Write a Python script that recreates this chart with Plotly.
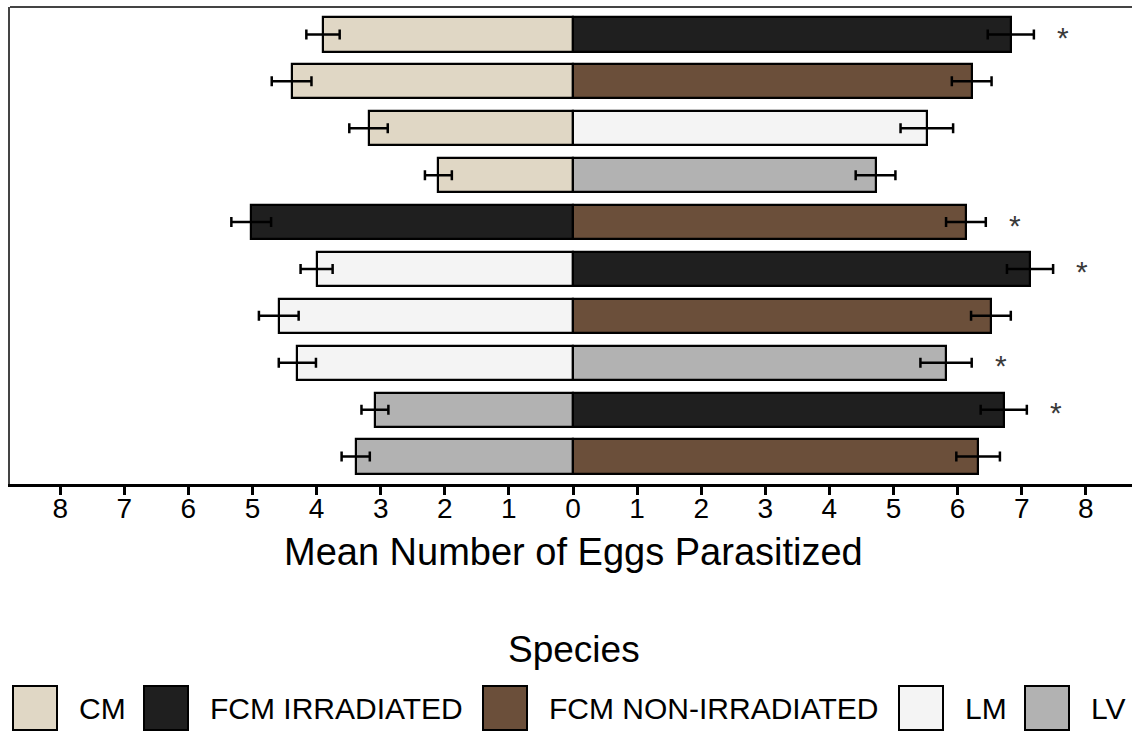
import plotly.graph_objects as go

# ---------------- data ----------------
species = ["CM", "FCM IRRADIATED", "FCM NON-IRRADIATED", "LM", "LV"]
species_colors = ["#e0d7c5", "#1f1f1f", "#6b4f3a", "#f4f4f4", "#b2b2b2"]

left_species = ["CM", "CM", "CM", "CM", "FCM IRRADIATED",
                "LM", "LM", "LM", "LV", "LV"]
left_mean = [3.90, 4.39, 3.19, 2.10, 5.02, 4.00, 4.59, 4.30, 3.09, 3.39]
left_se = [0.26, 0.31, 0.30, 0.21, 0.31, 0.25, 0.31, 0.29, 0.21, 0.22]

right_species = ["FCM IRRADIATED", "FCM NON-IRRADIATED", "LM", "LV",
                 "FCM NON-IRRADIATED", "FCM IRRADIATED", "FCM NON-IRRADIATED",
                 "LV", "FCM IRRADIATED", "FCM NON-IRRADIATED"]
right_mean = [6.83, 6.22, 5.52, 4.72, 6.13, 7.13, 6.52, 5.82, 6.72, 6.32]
right_se = [0.36, 0.31, 0.41, 0.31, 0.31, 0.36, 0.31, 0.40, 0.36, 0.34]

significant = [True, False, False, False, True, True, False, True, True, False]

tick_values = list(range(-8, 9))
tick_labels = [str(abs(v)) for v in tick_values]

# ---------------- figure ----------------
FONT = "Liberation Sans, Arial, Helvetica, sans-serif"
cmap = dict(zip(species, species_colors))
rows = list(range(len(left_mean)))

W, H = 1132, 731
ML, MR, MT, MB = 10, 0, 7, 247
PW, PH = W - ML - MR, H - MT - MB


def px_x(px):
    return (px - ML) / PW


def px_y(py):
    return (H - MB - py) / PH


fig = go.Figure()

fig.add_trace(go.Bar(
    y=rows, x=[-v for v in left_mean], orientation="h", width=0.73,
    marker=dict(color=[cmap[s] for s in left_species],
                line=dict(color="black", width=2.2)),
    error_x=dict(type="data", array=left_se, symmetric=True,
                 color="black", thickness=2.5, width=5),
    showlegend=False, hoverinfo="skip",
))
fig.add_trace(go.Bar(
    y=rows, x=right_mean, orientation="h", width=0.73,
    marker=dict(color=[cmap[s] for s in right_species],
                line=dict(color="black", width=2.2)),
    error_x=dict(type="data", array=right_se, symmetric=True,
                 color="black", thickness=2.5, width=5),
    showlegend=False, hoverinfo="skip",
))

annotations = []
for r, sig in enumerate(significant):
    if sig:
        annotations.append(dict(
            x=right_mean[r] + right_se[r] + 0.45, y=r, xref="x", yref="y",
            text="*", showarrow=False, yshift=-3,
            font=dict(family=FONT, size=30, color="#3a3a3a"),
        ))

# axis title
annotations.append(dict(
    x=px_x(573), y=px_y(552), xref="paper", yref="paper",
    text="Mean Number of Eggs Parasitized", showarrow=False,
    xanchor="center", yanchor="middle",
    font=dict(family=FONT, size=38, color="black"),
))
# legend title
annotations.append(dict(
    x=px_x(574), y=px_y(649), xref="paper", yref="paper",
    text="Species", showarrow=False,
    xanchor="center", yanchor="middle",
    font=dict(family=FONT, size=37, color="black"),
))

# custom legend (large swatches)
box_left = [13, 144, 483, 899, 1025]
text_left = [77, 208, 547, 963, 1089]
shapes = []
for i, (name, col) in enumerate(zip(species, species_colors)):
    shapes.append(dict(
        type="rect", xref="paper", yref="paper",
        x0=px_x(box_left[i]), x1=px_x(box_left[i] + 44),
        y0=px_y(730), y1=px_y(686),
        fillcolor=col, line=dict(color="black", width=2),
    ))
    annotations.append(dict(
        x=px_x(text_left[i]), y=px_y(708), xref="paper", yref="paper",
        text=name, showarrow=False, xanchor="left", yanchor="middle",
        font=dict(family=FONT, size=30, color="black"),
    ))

# top frame line
shapes.append(dict(type="line", xref="paper", yref="paper",
                   x0=0, x1=1, y0=1, y1=1,
                   line=dict(color="#444444", width=2)))

fig.update_layout(
    width=W, height=H,
    margin=dict(l=ML, r=MR, t=MT, b=MB),
    paper_bgcolor="white", plot_bgcolor="white",
    barmode="overlay", bargap=0,
    showlegend=False,
    annotations=annotations,
    shapes=shapes,
    font=dict(family=FONT, color="black"),
)
fig.update_xaxes(
    range=[-(573 - ML) / 64.1, (W - MR - 573) / 64.1],
    tickvals=tick_values, ticktext=tick_labels,
    ticks="outside", ticklen=8, tickwidth=2.5, tickcolor="black",
    tickfont=dict(family=FONT, size=28, color="black"),
    showline=True, linecolor="black", linewidth=3,
    showgrid=False, zeroline=False,
)
try:
    fig.update_xaxes(ticklabelstandoff=-11)
except Exception:
    pass
fig.update_yaxes(
    range=[9.585, -0.585],
    showticklabels=False, ticks="",
    showline=True, linecolor="#444444", linewidth=2,
    showgrid=False, zeroline=False,
)

fig.write_html("out.html")
